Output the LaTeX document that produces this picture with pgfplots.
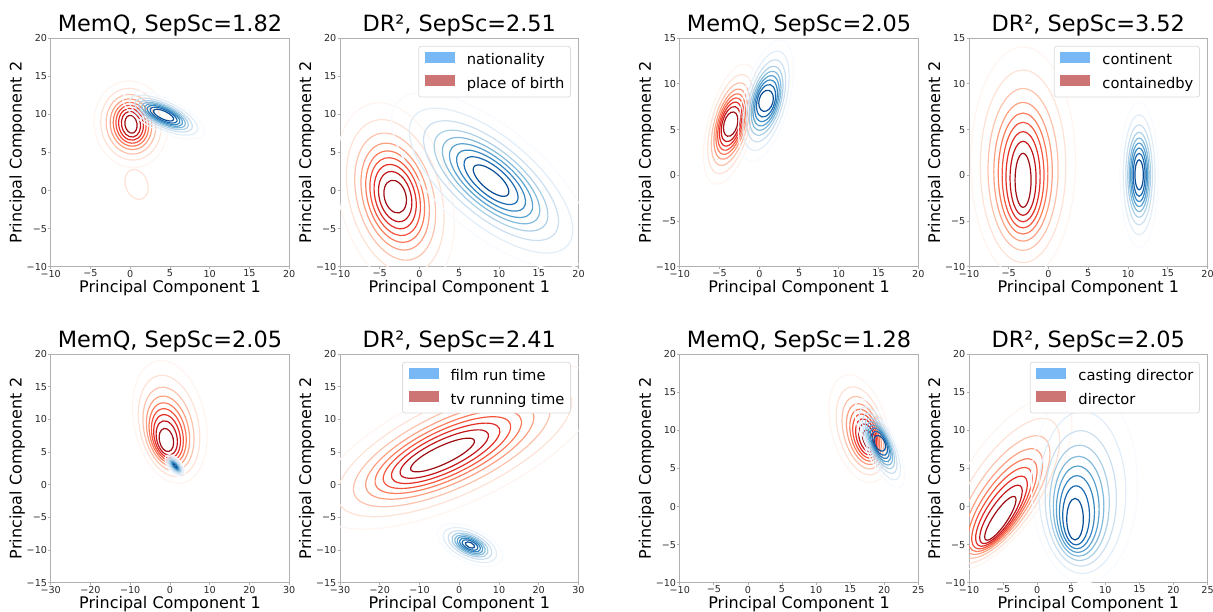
\documentclass[border=0pt]{standalone}
\usepackage{fontspec}
\setmainfont{DejaVu Sans}
\usepackage{pgfplots}
\pgfplotsset{compat=1.18}

% Reds colormap levels (outer k0 -> inner k8)
\definecolor{R0}{RGB}{255,245,240}
\definecolor{R1}{RGB}{254,226,213}
\definecolor{R2}{RGB}{252,195,172}
\definecolor{R3}{RGB}{252,160,130}
\definecolor{R4}{RGB}{251,124,92}
\definecolor{R5}{RGB}{246,85,61}
\definecolor{R6}{RGB}{227,47,39}
\definecolor{R7}{RGB}{195,22,27}
\definecolor{R8}{RGB}{158,13,20}
% Blues colormap levels
\definecolor{B0}{RGB}{247,251,255}
\definecolor{B1}{RGB}{225,237,248}
\definecolor{B2}{RGB}{203,223,241}
\definecolor{B3}{RGB}{171,208,230}
\definecolor{B4}{RGB}{130,186,219}
\definecolor{B5}{RGB}{89,162,207}
\definecolor{B6}{RGB}{55,135,192}
\definecolor{B7}{RGB}{27,106,175}
\definecolor{B8}{RGB}{8,77,151}
\definecolor{legblue}{RGB}{120,185,245}
\definecolor{legred}{RGB}{205,117,117}
\definecolor{spine}{RGB}{176,176,176}
\definecolor{ticktext}{RGB}{40,40,40}
\definecolor{leggray}{RGB}{220,220,220}

\tikzset{kde/.style={line width=1.2pt}}

% contour levels of one density: centre (data), angle, innermost semi-axes (pt),
% growth per level step (pt), centre drift per level step (data)
\newcommand\drawlevels[9]{%
  \foreach \s/\c in {0/8,1.3/7,2.35/6,3.35/5,4.35/4,5.5/3,7/2,9/1,11.5/0}{%
    \pgfmathsetmacro\ra{#4+\s*#6}%
    \pgfmathsetmacro\rb{#5+\s*#7}%
    \pgfmathsetmacro\ccx{#1+\s*#8}%
    \pgfmathsetmacro\ccy{#2+\s*#9}%
    \edef\temp{\noexpand\draw[\pal\c, kde, rotate around={#3:(axis cs:\ccx,\ccy)}] (axis cs:\ccx,\ccy) ellipse [x radius=\ra pt, y radius=\rb pt];}%
    \temp
  }%
}
\newcommand\kdeR{\def\pal{R}\drawlevels}
\newcommand\kdeB{\def\pal{B}\drawlevels}
\newcommand\oneell[6]{%
  \edef\temp{\noexpand\draw[#1, kde, rotate around={#4:(axis cs:#2,#3)}] (axis cs:#2,#3) ellipse [x radius=#5pt, y radius=#6pt];}%
  \temp}

\newcommand\legpatch[1]{\addlegendimage{legend image code/.code={\fill[#1, sharp corners] (0pt,-1pt) rectangle (29pt,9pt);}}}

\pgfplotsset{
  kdeaxis/.style={
    scale only axis, width=238.5pt, height=228.5pt, anchor=south west,
    axis line style={draw=spine, line width=0.9pt},
    tick style={draw=spine, line width=0.8pt},
    tick align=outside, major tick length=2.5pt,
    xtick pos=lower, ytick pos=left,
    ticklabel style={font=\fontsize{9.6}{11}\selectfont, text=ticktext},
    xticklabel style={inner sep=0.5pt},
    yticklabel style={inner sep=1pt},
    every axis title/.style={at={(axis description cs:0.5,1)}, anchor=base, yshift=6.8pt, font=\fontsize{22.4}{26}\selectfont},
    every axis x label/.style={at={(axis description cs:0.5,0)}, anchor=base, yshift=-26.3pt, font=\fontsize{16}{19}\selectfont},
    every axis y label/.style={at={(axis description cs:0,0.5)}, rotate=90, anchor=base, yshift=29pt, font=\fontsize{16}{19}\selectfont},
    xlabel={Principal Component 1}, ylabel={Principal Component 2},
    legend style={at={(axis description cs:1,1)}, anchor=north east, xshift=-7.7pt, yshift=-7.7pt,
      draw=leggray, line width=0.8pt, rounded corners=2.5pt, fill=white,
      inner xsep=6pt, inner ysep=5.5pt, row sep=7.5pt,
      font=\fontsize{14.7}{17}\selectfont,
      nodes={inner sep=0pt, text height=10.5pt, text depth=3pt},
      /tikz/every odd column/.append style={column sep=12.3pt}},
    legend cell align=left,
  },
  r1x/.style={xmin=-10,xmax=20,xtick={-10,-5,0,5,10,15,20},xticklabels={−10,−5,0,5,10,15,20}},
  y1/.style={ymin=-10,ymax=20,ytick={-10,-5,0,5,10,15,20},yticklabels={−10,−5,0,5,10,15,20}},
  y2/.style={ymin=-10,ymax=15,ytick={-10,-5,0,5,10,15},yticklabels={−10,−5,0,5,10,15}},
  x3/.style={xmin=-30,xmax=30,xtick={-30,-20,-10,0,10,20,30},xticklabels={−30,−20,−10,0,10,20,30}},
  y3/.style={ymin=-15,ymax=20,ytick={-15,-10,-5,0,5,10,15,20},yticklabels={−15,−10,−5,0,5,10,15,20}},
  x4/.style={xmin=-10,xmax=25,xtick={-10,-5,0,5,10,15,20,25},xticklabels={−10,−5,0,5,10,15,20,25}},
}

\begin{document}
\begin{tikzpicture}
\path[use as bounding box] (0pt,0pt) rectangle (1213pt,612pt);

% ---------- Panel 1
\begin{axis}[kdeaxis, at={(50.7pt,345.3pt)}, r1x, y1, title={MemQ, SepSc=1.82}]
\kdeR{0.1}{8.7}{10}{6}{9}{2.67}{3.0}{0}{0}
\oneell{R1}{0.8}{0.8}{20}{11}{15.5}
\kdeB{4.2}{9.9}{-25}{11}{4}{2.9}{1.08}{0}{0}
\end{axis}

% ---------- Panel 2
\begin{axis}[kdeaxis, at={(340pt,345.3pt)}, r1x, y1, title={DR², SepSc=2.51}]
\legpatch{legblue}\addlegendentry{nationality}
\legpatch{legred}\addlegendentry{place of birth}
\kdeR{-3.06}{-0.8}{15}{10.8}{16.7}{3.9}{6.9}{0}{0}
\kdeB{9.0}{1.3}{-40}{22}{9}{8.7}{3.8}{0}{0}
\end{axis}

% ---------- Panel 3
\begin{axis}[kdeaxis, at={(679.8pt,345.3pt)}, r1x, y2, title={MemQ, SepSc=2.05}]
\kdeR{-3.6}{5.6}{-15}{6.7}{12.5}{1.4}{4.3}{0}{0}
\kdeB{0.85}{8.15}{-15}{7}{10.8}{1.4}{4.5}{0}{0}
\end{axis}

% ---------- Panel 4
\begin{axis}[kdeaxis, at={(969pt,345.3pt)}, r1x, y2, title={DR², SepSc=3.52}]
\legpatch{legblue}\addlegendentry{continent}
\legpatch{legred}\addlegendentry{containedby}
\kdeR{-3.2}{-0.55}{0}{8}{27}{3.86}{7.7}{0}{0.17}
\kdeB{11.4}{0.05}{0}{4.2}{15}{1.3}{5.0}{0}{0}
\end{axis}

% ---------- Panel 5
\begin{axis}[kdeaxis, at={(50.7pt,29.3pt)}, x3, y3, title={MemQ, SepSc=2.05}]
\kdeR{-0.9}{6.86}{12}{7}{11.7}{2.5}{4.4}{0.075}{0.24}
\kdeB{1.3}{2.9}{-50}{2.5}{1.0}{0.95}{0.5}{0}{0}
\end{axis}

% ---------- Panel 6
\begin{axis}[kdeaxis, at={(340pt,29.3pt)}, x3, y3, title={DR², SepSc=2.41}]
\legpatch{legblue}\addlegendentry{film run time}
\legpatch{legred}\addlegendentry{tv running time}
\kdeR{-4.2}{4.56}{25}{35}{9}{10.3}{4.1}{0.33}{0.11}
\kdeB{2.7}{-9.23}{-25}{5}{2.5}{2.63}{1.27}{0}{0}
\end{axis}

% ---------- Panel 7
\begin{axis}[kdeaxis, at={(679.8pt,29.3pt)}, x4, y1, title={MemQ, SepSc=1.28}]
\kdeR{17.6}{8.85}{15}{5}{9.2}{2.0}{4.0}{-0.107}{0.12}
\kdeB{19.35}{8.3}{25}{5}{8.3}{0.9}{3.5}{0}{0}
\end{axis}

% ---------- Panel 8
\begin{axis}[kdeaxis, at={(969pt,29.3pt)}, x4, y1, title={DR², SepSc=2.05}]
\legpatch{legblue}\addlegendentry{casting director}
\legpatch{legred}\addlegendentry{director}
\kdeR{-5.4}{-1.55}{-34}{7}{26}{3.0}{6.5}{0.07}{0.4}
\kdeB{5.56}{-1.66}{0}{8.3}{20.8}{3.9}{6.7}{0.12}{0.39}
\end{axis}
\end{tikzpicture}
\end{document}
